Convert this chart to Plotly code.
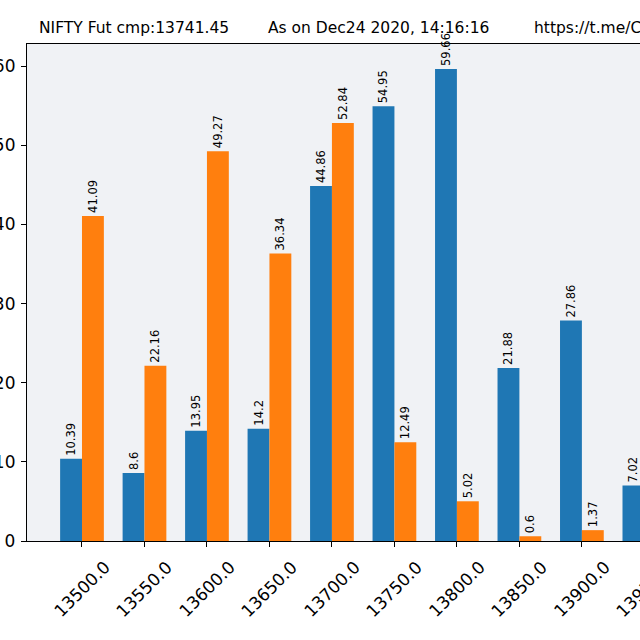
import plotly.graph_objects as go

strikes = [13500.0, 13550.0, 13600.0, 13650.0, 13700.0, 13750.0, 13800.0, 13850.0, 13900.0, 13950.0]
tick_labels = ["13500.0", "13550.0", "13600.0", "13650.0", "13700.0", "13750.0", "13800.0", "13850.0", "13900.0", "13950.0"]
blue_vals = [10.39, 8.6, 13.95, 14.2, 44.86, 54.95, 59.66, 21.88, 27.86, 7.02]
orange_vals = [41.09, 22.16, 49.27, 36.34, 52.84, 12.49, 5.02, 0.6, 1.37, None]
title_parts = ["NIFTY Fut cmp:13741.45", "As on Dec24 2020, 14:16:16", "https://t.me/C"]
y_ticks = [0, 10, 20, 30, 40, 50, 60]

FONT = "DejaVu Sans"
L, R, T, B = 27, 0, 44, 98.5
W = H = 640
pw = W - L - R
ph = H - T - B
XR = [-0.88, 8.93]

fig = go.Figure()
for vals, col in [(blue_vals, "#1f77b4"), (orange_vals, "#ff7f0e")]:
    fig.add_trace(go.Bar(
        x=tick_labels, y=vals, marker=dict(color=col, line=dict(width=0)),
        text=[("" if v is None else str(v)) for v in vals],
        textposition="outside", textangle=-90, cliponaxis=False,
        constraintext="none",
        outsidetextfont=dict(family=FONT, size=11.5, color="black"),
        showlegend=False,
    ))

annotations = []
for i, lab in enumerate(tick_labels):
    # category index mapped onto the x axis range (paper fraction)
    annotations.append(dict(
        x=(i - XR[0]) / (XR[1] - XR[0]), y=-13.5 / ph, xref="paper", yref="paper",
        text=lab, showarrow=False,
        textangle=-45, xanchor="center", yanchor="top",
        font=dict(family=FONT, size=17, color="black"),
    ))
title_x = [38, 267, 533]
for txt, px in zip(title_parts, title_x):
    annotations.append(dict(
        x=(px - L) / pw, y=(H - B - 27.5) / ph, xref="paper", yref="paper", text=txt,
        showarrow=False, xanchor="left", yanchor="middle", borderpad=0,
        font=dict(family=FONT, size=15.5, color="black"),
    ))

fig.update_layout(
    width=W, height=H, margin=dict(l=L, r=R, t=T, b=B, pad=0),
    paper_bgcolor="white", plot_bgcolor="#f0f2f5",
    barmode="group", bargap=0.3, bargroupgap=0,
    template="none", annotations=annotations,
    font=dict(family=FONT, color="black"),
)
fig.update_xaxes(
    type="category", range=XR, showgrid=False, zeroline=False,
    showline=True, linecolor="black", linewidth=1.3, mirror=True,
    ticks="outside", ticklen=5, tickwidth=1.2, tickcolor="black",
    showticklabels=False,
)
fig.update_yaxes(
    range=[0, ph / 7.92], showgrid=False, zeroline=False,
    showline=True, linecolor="black", linewidth=1.3, mirror=False,
    ticks="outside", ticklen=5, tickwidth=1.2, tickcolor="black",
    tickvals=y_ticks, ticktext=[str(v) for v in y_ticks],
    tickfont=dict(family=FONT, size=17, color="black"),
    automargin=False, ticklabelstandoff=2,
)
fig.write_html("out.html")
